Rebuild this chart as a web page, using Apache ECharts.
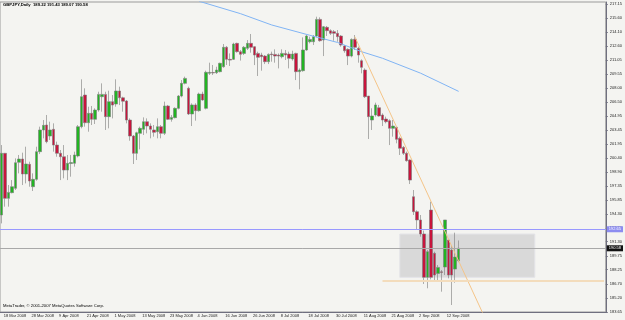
<!DOCTYPE html>
<html>
<head>
<meta charset="utf-8">
<title>GBPJPY Daily</title>
<script src="https://cdn.jsdelivr.net/npm/echarts@6/dist/echarts.min.js"></script>
<style>
html, body { margin: 0; padding: 0; background: #f4f4f1; }
#chart { width: 625px; height: 320px; }
</style>
</head>
<body>
<div id="chart"></div>
<script>
// GBPJPY daily bars, 18 Mar 2008 .. 18 Sep 2008 (weekdays)
var startDate = '2008-03-18';
var barCount = 133;
var slotCount = 175; // empty room on the right like the terminal

var opens = [
    194.20, 200.91, 196.01, 196.63, 197.10, 199.93, 200.29, 198.66, 199.71, 197.28,
    198.08, 201.09, 203.45, 203.99, 202.79, 203.52, 201.81, 200.91, 200.54, 199.09,
    199.80, 199.82, 200.62, 203.81, 207.25, 204.24, 205.26, 204.61, 205.62, 207.07,
    207.32, 204.90, 206.53, 206.27, 207.69, 206.95, 206.60, 204.53, 202.79, 200.91,
    203.08, 203.52, 204.35, 203.88, 203.45, 203.26, 203.81, 203.08, 206.06, 204.61,
    204.79, 205.80, 207.14, 208.52, 207.98, 205.19, 206.17, 205.55, 207.36, 205.80,
    209.61, 209.70, 209.68, 209.79, 210.33, 212.44, 211.13, 211.13, 212.87, 211.97,
    211.78, 212.33, 212.87, 212.51, 211.78, 211.60, 211.49, 210.88, 211.71, 211.67,
    211.60, 211.42, 211.78, 211.71, 211.17, 211.78, 209.79, 209.90, 212.15, 213.05,
    213.05, 213.67, 215.48, 213.24, 214.61, 214.25, 214.14, 213.96, 213.67, 212.58,
    212.22, 211.49, 213.31, 212.33, 210.98, 209.97, 207.14, 204.53, 205.08, 205.87,
    205.08, 204.64, 204.46, 203.63, 203.74, 202.54, 201.56, 200.91, 200.18, 196.19,
    194.56, 193.66, 192.13, 187.42, 194.74, 190.03, 187.85, 188.02, 188.54, 191.48,
    190.39, 188.32, 189.22
];
var closes = [
    200.91, 196.01, 196.66, 197.28, 199.89, 200.29, 198.66, 199.75, 197.90, 198.08,
    201.09, 203.45, 203.95, 202.18, 203.45, 201.81, 200.91, 200.54, 199.09, 199.82,
    199.90, 200.73, 203.81, 207.07, 204.24, 205.26, 204.61, 205.62, 207.32, 207.32,
    204.90, 206.53, 206.16, 207.69, 206.95, 206.58, 204.53, 202.79, 200.91, 203.15,
    203.63, 204.35, 203.88, 203.52, 203.19, 203.81, 203.08, 206.06, 204.61, 204.82,
    205.80, 207.14, 208.52, 209.06, 205.19, 206.17, 205.55, 207.36, 206.71, 209.72,
    209.72, 209.65, 209.97, 210.70, 212.44, 211.13, 211.05, 212.80, 211.97, 211.68,
    212.44, 212.87, 212.44, 211.60, 211.35, 211.42, 210.88, 211.67, 211.64, 211.49,
    211.49, 211.78, 211.60, 211.24, 211.71, 209.79, 209.97, 212.15, 213.67, 213.30,
    213.60, 215.48, 213.16, 214.68, 214.25, 213.96, 213.96, 213.60, 212.69, 212.07,
    211.49, 213.30, 212.44, 211.60, 210.26, 207.07, 204.90, 204.97, 206.17, 204.97,
    204.53, 204.35, 203.63, 203.88, 202.43, 201.45, 200.91, 200.11, 198.00, 194.56,
    193.66, 192.13, 187.42, 190.21, 187.42, 187.67, 188.50, 187.95, 193.66, 187.67,
    187.67, 189.62, 190.58
];
var lows = [
    193.29, 195.11, 195.11, 196.56, 196.92, 198.73, 197.46, 197.64, 197.28, 196.81,
    197.93, 200.83, 202.54, 202.00, 202.36, 201.09, 200.54, 198.00, 198.19, 198.00,
    198.37, 199.46, 200.47, 203.63, 203.81, 203.26, 203.99, 204.10, 205.44, 205.44,
    203.45, 203.63, 204.71, 205.98, 206.16, 205.44, 204.17, 202.28, 199.75, 200.18,
    201.34, 202.90, 203.08, 202.54, 202.72, 202.54, 202.54, 202.90, 204.53, 204.35,
    204.71, 205.69, 207.00, 208.41, 205.08, 203.88, 204.46, 205.44, 206.64, 205.69,
    209.43, 209.43, 209.54, 209.72, 210.22, 210.52, 210.41, 211.06, 211.86, 211.00,
    211.60, 212.15, 211.86, 210.51, 209.32, 209.90, 210.62, 210.62, 210.88, 210.77,
    210.15, 211.24, 211.06, 210.15, 210.99, 208.88, 207.87, 209.79, 212.07, 212.87,
    212.69, 213.52, 213.05, 211.49, 213.67, 213.78, 213.16, 213.05, 212.51, 211.85,
    210.51, 211.35, 212.15, 210.77, 209.61, 206.93, 202.47, 203.45, 204.90, 204.90,
    203.88, 204.17, 201.81, 202.72, 202.00, 200.73, 200.73, 200.00, 197.57, 194.20,
    192.57, 191.84, 186.70, 186.23, 187.20, 187.13, 187.13, 185.86, 187.67, 187.31,
    184.41, 186.84, 189.07
];
var highs = [
    201.81, 200.95, 197.46, 198.00, 200.36, 200.73, 200.98, 201.63, 200.00, 198.73,
    201.63, 203.81, 204.53, 205.08, 204.35, 204.17, 202.18, 201.27, 201.81, 200.73,
    200.73, 201.09, 203.99, 208.96, 207.98, 205.98, 206.06, 205.80, 207.61, 208.52,
    207.61, 207.72, 207.25, 208.96, 208.16, 207.07, 206.71, 204.71, 202.90, 203.26,
    203.81, 204.82, 204.71, 204.17, 203.99, 204.71, 203.99, 206.53, 206.17, 205.08,
    205.91, 207.25, 208.88, 209.25, 208.16, 206.35, 206.35, 207.51, 207.61, 209.90,
    210.77, 210.52, 210.33, 210.77, 212.80, 212.58, 211.78, 212.94, 212.94, 212.15,
    212.58, 213.23, 213.89, 212.55, 211.97, 211.85, 211.60, 211.78, 211.97, 212.22,
    211.78, 212.22, 212.15, 211.97, 212.07, 211.85, 210.15, 213.52, 213.78, 213.60,
    213.78, 215.77, 215.70, 214.76, 214.76, 214.40, 214.32, 214.32, 213.78, 212.69,
    212.33, 213.41, 213.78, 212.51, 211.13, 210.15, 207.14, 205.81, 206.42, 206.17,
    205.26, 204.90, 204.61, 204.53, 203.81, 202.72, 201.70, 201.09, 200.26, 196.92,
    194.71, 194.20, 192.50, 190.39, 195.65, 190.21, 188.76, 188.22, 193.66, 191.56,
    190.93, 192.28, 191.43
];

// moving average, read at a few bars
var maIdx = [57, 69, 78, 89, 97, 104, 110, 121, 132];
var maVal = [217.45, 216.10, 214.87, 213.75, 212.97, 211.96, 211.25, 209.63, 207.65];

// trend line (two anchor points)
var trendIdx = [102, 142];
var trendVal = [213.60, 181.05];

// horizontal levels
var bidPrice = 190.58;
var blueLevel = 192.65;
var orangeLevel = 187.10;
var orangeFrom = 110;

// grey rectangle: bars and prices
var boxIdx = [115, 154];
var boxVal = [192.13, 187.42];

// price scale labels
var yTicks = [217.15, 215.60, 214.10, 212.60, 211.05, 209.55, 208.00, 206.50, 204.95, 203.45,
    201.95, 200.40, 198.90, 197.35, 195.85, 194.30, 192.80, 191.30, 189.75, 188.25,
    186.70, 185.20, 183.65];
var yMin = 183.65, yMax = 217.37;

var titleText = 'GBPJPY,Daily  189.22 191.43 189.07 190.58';
var footText = 'MetaTrader, \u00a9 2001-2007 MetaQuotes Software Corp.';

// weekday dates
var months = ['Jan', 'Feb', 'Mar', 'Apr', 'May', 'Jun', 'Jul', 'Aug', 'Sep', 'Oct', 'Nov', 'Dec'];
var dates = [];
var d = new Date(startDate + 'T00:00:00Z');
while (dates.length < barCount) {
    var wd = d.getUTCDay();
    if (wd !== 0 && wd !== 6) {
        dates.push(d.getUTCDate() + ' ' + months[d.getUTCMonth()] + ' ' + d.getUTCFullYear());
    }
    d.setUTCDate(d.getUTCDate() + 1);
}
var cats = dates.slice();
while (cats.length < slotCount) cats.push('');

var ohlc = [];
for (var i = 0; i < barCount; i++) {
    ohlc.push([opens[i], closes[i], lows[i], highs[i]]);
}
var maData = maIdx.map(function(x, k) { return [x, maVal[k]]; });
var trendData = trendIdx.map(function(x, k) { return [x, trendVal[k]]; });

var fontFam = '"Liberation Sans", Arial, sans-serif';
var labelInterval = function(index, value) {
    return index % 8 === 0 && value !== '';
};

var chart = echarts.init(document.getElementById('chart'));
var option = {
    animation: false,
    backgroundColor: '#f4f4f1',
    textStyle: { fontFamily: fontFam },
    grid: {
        left: 0,
        top: 2,
        width: 609,
        bottom: 8,
        show: true,
        borderColor: '#9a9a9a',
        borderWidth: 1,
        backgroundColor: 'transparent'
    },
    xAxis: {
        type: 'category',
        data: cats,
        boundaryGap: true,
        axisLine: { lineStyle: { color: '#6f6f7f', width: 1 } },
        axisTick: { interval: labelInterval, alignWithLabel: true, length: 4, lineStyle: { color: '#444' } },
        axisLabel: {
            interval: labelInterval,
            align: 'left',
            margin: 2,
            padding: [0, 0, 0, 2],
            fontSize: 4,
            color: '#222',
            fontFamily: fontFam
        },
        splitLine: { show: false }
    },
    yAxis: {
        type: 'value',
        position: 'right',
        min: yMin,
        max: yMax,
        scale: true,
        axisLine: { show: true, lineStyle: { color: '#6f6f7f', width: 1 } },
        axisTick: { show: true, customValues: yTicks, length: 2, lineStyle: { color: '#6f6f7f' } },
        axisLabel: {
            customValues: yTicks,
            margin: 4,
            fontSize: 4,
            color: '#222',
            fontFamily: fontFam,
            formatter: function(v) { return v.toFixed(2); }
        },
        splitLine: { show: false }
    },
    graphic: [{
        type: 'text',
        left: 3,
        top: 3,
        style: { text: titleText, fontSize: 4.2, fontWeight: 'bold', fill: '#000', fontFamily: fontFam }
    }, {
        type: 'text',
        left: 3,
        top: 304,
        style: { text: footText, fontSize: 4.2, fill: '#000', fontFamily: fontFam }
    }],
    series: [{
        type: 'candlestick',
        data: ohlc,
        barWidth: 3,
        itemStyle: {
            color: '#22b422',
            color0: '#c8143c',
            borderColor: '#7a7a7a',
            borderColor0: '#7a7a7a',
            borderWidth: 0.6
        },
        markArea: {
            silent: true,
            itemStyle: { color: 'rgba(200,200,202,0.62)', borderColor: '#e4e4e8', borderWidth: 1 },
            data: [[{ coord: [boxIdx[0], boxVal[0]] }, { coord: [boxIdx[1], boxVal[1]] }]]
        },
        markLine: {
            silent: true,
            symbol: 'none',
            data: [{
                yAxis: bidPrice,
                lineStyle: { color: '#a8a8a8', width: 1, type: 'solid' },
                label: {
                    show: true, position: 'end', distance: 1, formatter: bidPrice.toFixed(2),
                    backgroundColor: '#111', color: '#fff', fontSize: 4, padding: [1, 2]
                }
            }, {
                yAxis: blueLevel,
                lineStyle: { color: '#9898ff', width: 1, type: 'solid' },
                label: {
                    show: true, position: 'end', distance: 1, formatter: blueLevel.toFixed(2),
                    backgroundColor: '#8c8cf0', color: '#fff', fontSize: 4, padding: [1, 2]
                }
            }, [{
                coord: [orangeFrom, orangeLevel],
                lineStyle: { color: '#f3dcbc', width: 2, type: 'solid' },
                label: { show: false }
            }, {
                coord: [slotCount - 1, orangeLevel]
            }]]
        }
    }, {
        type: 'line',
        data: maData,
        symbol: 'none',
        clip: true,
        lineStyle: { color: '#80b4f4', width: 1 },
        z: 3
    }, {
        type: 'line',
        data: trendData,
        symbol: 'none',
        clip: true,
        lineStyle: { color: '#f4c488', width: 1 },
        z: 3
    }]
};
chart.setOption(option);
</script>
</body>
</html>
